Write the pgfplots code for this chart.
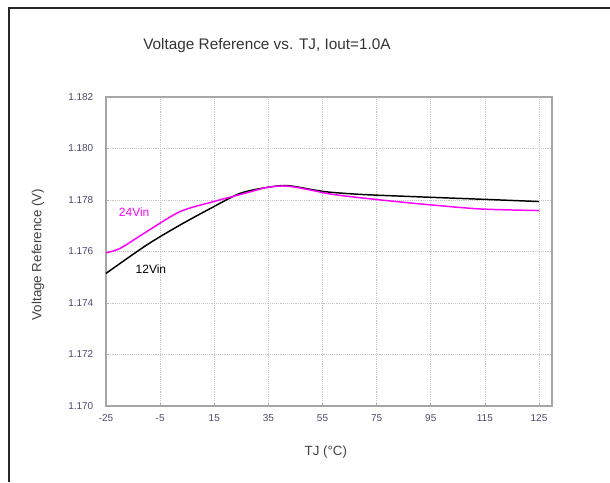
\documentclass[border=0pt]{standalone}
\usepackage{pgfplots}
\pgfplotsset{compat=1.18}
\usepackage{fontspec}
\setmainfont{Liberation Sans}
\definecolor{ticklab}{HTML}{4A4A6A}
\definecolor{mag}{HTML}{FF00FF}
\begin{document}
\begin{tikzpicture}
\path[use as bounding box] (-79.5pt,-57pt) rectangle (378pt,304.5pt);
\draw[line width=2pt, black!85] (-72.75pt,-57pt) -- (-72.75pt,298.5pt) -- (378pt,298.5pt);
\begin{axis}[
  at={(0pt,0pt)}, anchor=south west,
  scale only axis, width=334.5pt, height=231.75pt,
  xmin=0, xmax=8.24, ymin=1.170, ymax=1.182,
  xtick={0,1,2,3,4,5,6,7,8},
  xticklabels={-25,-5,15,35,55,75,95,115,125},
  ytick={1.170,1.172,1.174,1.176,1.178,1.180,1.182},
  /pgf/number format/.cd, fixed, fixed zerofill, precision=3, assume math mode=true,
  /pgfplots/.cd,
  ticklabel style={font=\fontsize{7.5}{9}\selectfont, text=ticklab},
  xticklabel style={yshift=-3pt},
  yticklabel style={xshift=-6pt},
  scaled y ticks=false,
  grid=major,
  major grid style={densely dotted, gray!45, line width=0.5pt},
  axis line style={gray!70, line width=0.8pt},
  tick style={gray!60, line width=0.5pt},
  major tick length=2pt,
  tick align=inside,
  xtick pos=bottom, ytick pos=left,
  clip=false,
]
\addplot[black, line width=1.1pt, smooth, tension=0.5] coordinates {
(0,1.17515) (0.75,1.17625) (1.37,1.17703) (1.99,1.17774) (2.48,1.17826)
(2.98,1.17849) (3.35,1.17856) (3.84,1.17839) (4.15,1.17830) (4.77,1.17821)
(5.69,1.17813) (6.93,1.17803) (8,1.17794)};
\addplot[mag, line width=1.1pt, smooth, tension=0.5] coordinates {
(0,1.17595) (0.26,1.17612) (0.75,1.17677) (1.37,1.17755) (1.99,1.17794)
(2.6,1.17828) (2.98,1.17849) (3.35,1.17854) (3.84,1.17836) (4.15,1.17823)
(4.77,1.17807) (5.69,1.17787) (6.0,1.17781) (6.93,1.17765) (8,1.17759)};
\node[mag, font=\fontsize{9}{10}\selectfont] at (axis cs:0.52,1.17753) {24Vin};
\node[black, font=\fontsize{9}{10}\selectfont] at (axis cs:0.83,1.17532) {12Vin};
\node[font=\fontsize{11.5}{13}\selectfont, text=black!80] at (axis description cs:0.361,1.168) {Voltage Reference vs. TJ, Iout=1.0A};
\node[font=\fontsize{10}{12}\selectfont, text=black!75] at (axis description cs:0.493,-0.149) {TJ (°C)};
\node[font=\fontsize{10}{12}\selectfont, text=black!75, rotate=90] at (axis description cs:-0.1525,0.49) {Voltage Reference (V)};
\end{axis}
\end{tikzpicture}
\end{document}
